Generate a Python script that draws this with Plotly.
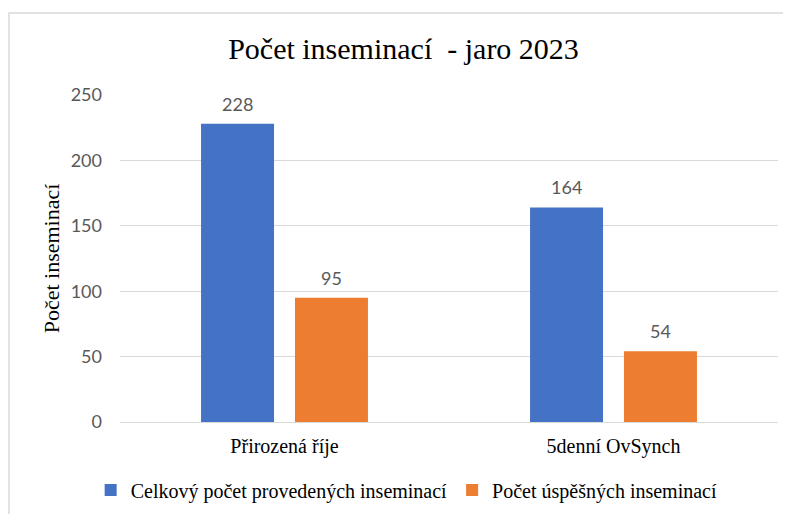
import plotly.graph_objects as go

categories = ["Přirozená říje", "5denní OvSynch"]
celkem = [228, 164]
uspesne = [95, 54]
series_names = ["Celkový počet provedených inseminací", "Počet úspěšných inseminací"]

SERIF = "Liberation Serif, Times New Roman, serif"
SANS = "Lato, Carlito, Calibri, sans-serif"

fig = go.Figure()
fig.add_trace(go.Bar(x=categories, y=celkem, name=series_names[0],
                     marker=dict(color="#4472C4", line=dict(width=0))))
fig.add_trace(go.Bar(x=categories, y=uspesne, name=series_names[1],
                     marker=dict(color="#ED7D31", line=dict(width=0))))

# value labels above the bars (shifted onto each bar of the group)
for vals, shift in [(celkem, -47), (uspesne, 47)]:
    for cat, v in zip(categories, vals):
        fig.add_annotation(x=cat, y=v, text=str(v), showarrow=False,
                           xshift=shift, yshift=7, yanchor="bottom",
                           font=dict(family=SANS, size=18, color="#595959"))

# light chart-area border like in Excel
fig.add_shape(type="rect", xref="paper", yref="paper",
              x0=-111 / 658, x1=1.05, y0=-0.4, y1=409 / 327,
              line=dict(color="#d9d9d9", width=1.5), fillcolor="rgba(0,0,0,0)",
              layer="below")

fig.update_layout(
    width=791, height=514,
    margin=dict(l=112, r=21, t=87, b=100),
    paper_bgcolor="white", plot_bgcolor="white",
    barmode="group", bargap=0.429, bargroupgap=0.223,
    title=dict(text="Počet inseminací  - jaro 2023", x=0.5, xanchor="center",
               y=1 - 40 / 514, yanchor="middle",
               font=dict(family=SERIF, size=30, color="black")),
    xaxis=dict(showgrid=False, showline=False, ticks="", ticklabelstandoff=10,
               tickfont=dict(family=SERIF, size=20, color="black")),
    yaxis=dict(range=[0, 250], dtick=50, showgrid=True, gridcolor="#d9d9d9",
               gridwidth=1.3, zeroline=True, zerolinecolor="#d9d9d9",
               zerolinewidth=1.3, showline=False, ticks="", ticklabelstandoff=17,
               tickfont=dict(family=SANS, size=18, color="#595959"),
               title=dict(text="Počet inseminací", standoff=4,
                          font=dict(family=SERIF, size=22, color="black"))),
    legend=dict(orientation="h", xref="container", x=0.504, xanchor="center",
                yref="container", y=1 - 482 / 514, yanchor="middle",
                font=dict(family=SERIF, size=20, color="black"),
                itemwidth=30),
    showlegend=True,
)

fig.write_html("out.html")
